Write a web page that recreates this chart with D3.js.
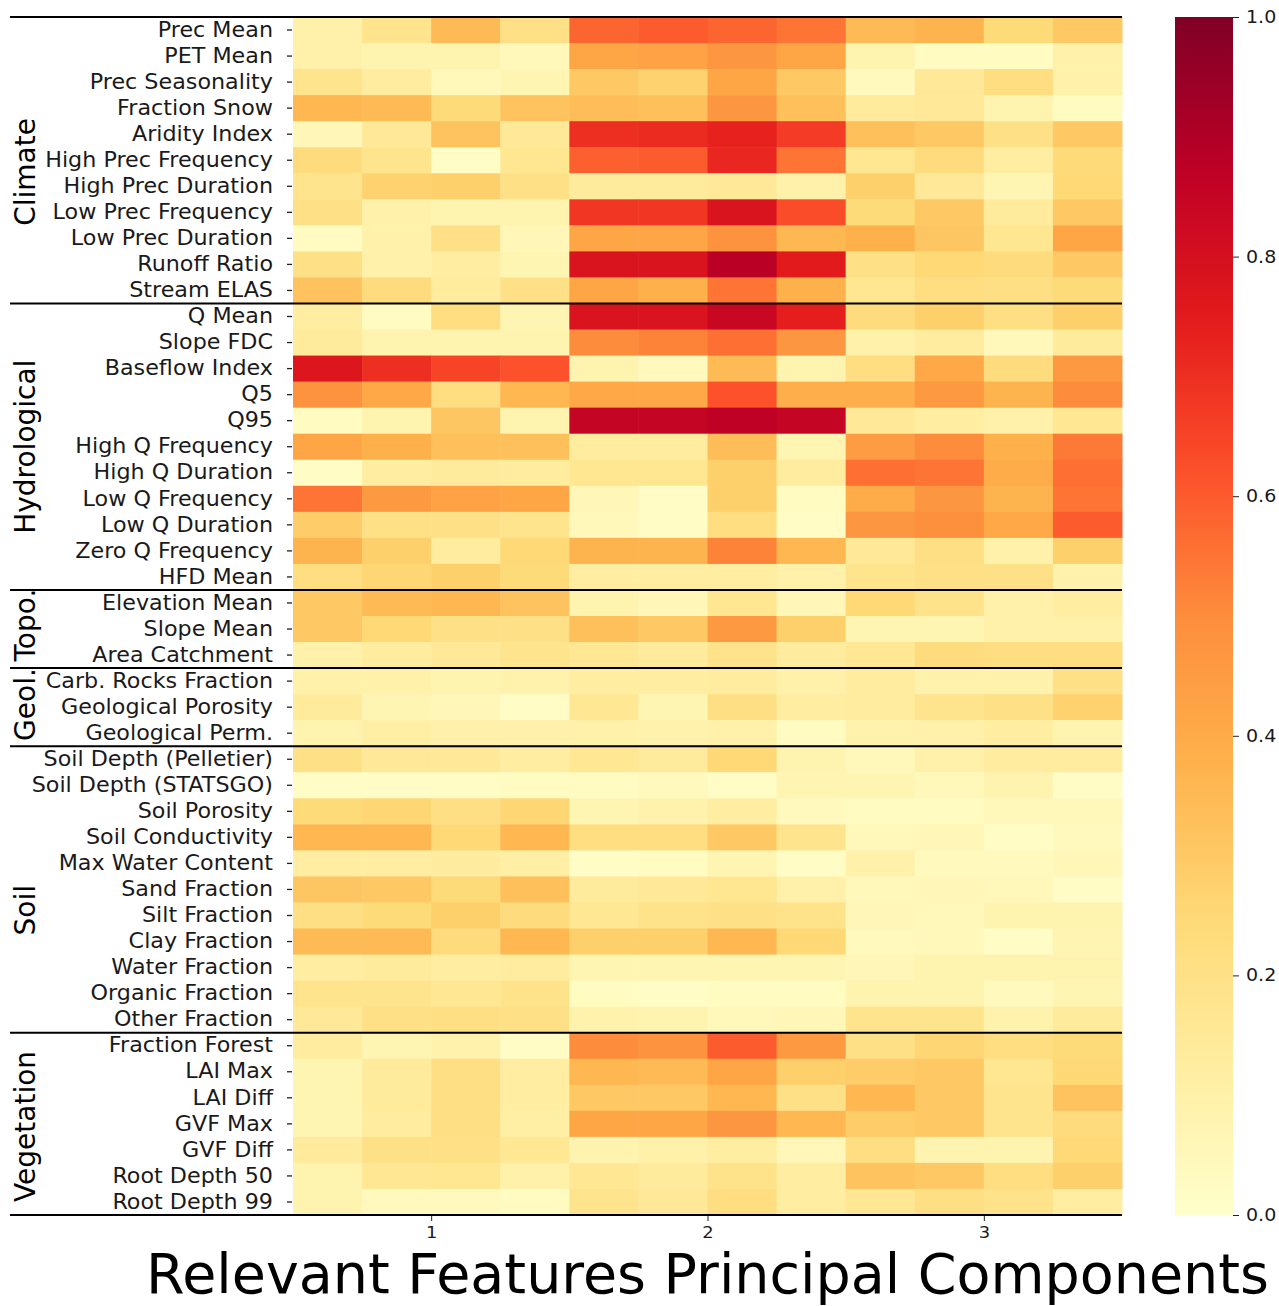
<!DOCTYPE html>
<html>
<head>
<meta charset="utf-8">
<script src="https://cdn.jsdelivr.net/npm/d3@7"></script>
<style>
  html, body { margin: 0; padding: 0; background: #fff; }
  svg { display: block; font-family: "DejaVu Sans", sans-serif; }
</style>
</head>
<body>
<svg id="chart" width="1279" height="1306"></svg>
<script>
// Feature groups, in row order
const groupNames = ["Climate", "Hydrological", "Topo.", "Geol.", "Soil", "Vegetation"];
const groupSizes = [11, 11, 3, 3, 11, 7];
// vertical anchor of each rotated group label, in row units from the top
const groupLabelRows = [5.95, 16.5, 23.35, 26.4, 34.3, 42.6];

const featureNames = [
  "Prec Mean", "PET Mean", "Prec Seasonality", "Fraction Snow", "Aridity Index",
  "High Prec Frequency", "High Prec Duration", "Low Prec Frequency", "Low Prec Duration",
  "Runoff Ratio", "Stream ELAS",
  "Q Mean", "Slope FDC", "Baseflow Index", "Q5", "Q95", "High Q Frequency",
  "High Q Duration", "Low Q Frequency", "Low Q Duration", "Zero Q Frequency", "HFD Mean",
  "Elevation Mean", "Slope Mean", "Area Catchment",
  "Carb. Rocks Fraction", "Geological Porosity", "Geological Perm.",
  "Soil Depth (Pelletier)", "Soil Depth (STATSGO)", "Soil Porosity", "Soil Conductivity",
  "Max Water Content", "Sand Fraction", "Silt Fraction", "Clay Fraction",
  "Water Fraction", "Organic Fraction", "Other Fraction",
  "Fraction Forest", "LAI Max", "LAI Diff", "GVF Max", "GVF Diff",
  "Root Depth 50", "Root Depth 99"
];

// Principal components (4 sub-columns each)
const componentLabels = ["1", "2", "3"];
const columnsPerComponent = 4;

// Relevance values, one row per feature, 12 columns
const climateValues = [
  [0.10, 0.18, 0.35, 0.20, 0.58, 0.60, 0.58, 0.55, 0.35, 0.37, 0.24, 0.30],
  [0.10, 0.08, 0.08, 0.05, 0.42, 0.43, 0.47, 0.42, 0.08, 0.03, 0.03, 0.10],
  [0.18, 0.13, 0.05, 0.07, 0.30, 0.27, 0.42, 0.30, 0.04, 0.15, 0.22, 0.10],
  [0.36, 0.35, 0.24, 0.32, 0.34, 0.33, 0.47, 0.33, 0.14, 0.15, 0.08, 0.03],
  [0.06, 0.15, 0.32, 0.15, 0.70, 0.71, 0.73, 0.67, 0.33, 0.30, 0.20, 0.30],
  [0.23, 0.18, 0.02, 0.17, 0.59, 0.60, 0.72, 0.55, 0.17, 0.23, 0.12, 0.24],
  [0.18, 0.27, 0.28, 0.20, 0.14, 0.14, 0.15, 0.10, 0.28, 0.15, 0.07, 0.25],
  [0.20, 0.10, 0.08, 0.08, 0.68, 0.68, 0.78, 0.63, 0.24, 0.30, 0.14, 0.30],
  [0.03, 0.10, 0.20, 0.06, 0.42, 0.42, 0.48, 0.36, 0.38, 0.31, 0.17, 0.42],
  [0.20, 0.10, 0.12, 0.07, 0.78, 0.78, 0.88, 0.75, 0.20, 0.25, 0.23, 0.30],
  [0.32, 0.23, 0.13, 0.20, 0.42, 0.38, 0.55, 0.38, 0.17, 0.22, 0.21, 0.24]
];
const hydroValues = [
  [0.12, 0.03, 0.22, 0.07, 0.78, 0.78, 0.84, 0.74, 0.23, 0.28, 0.21, 0.28],
  [0.14, 0.08, 0.08, 0.08, 0.50, 0.52, 0.56, 0.47, 0.10, 0.13, 0.05, 0.14],
  [0.77, 0.70, 0.65, 0.62, 0.08, 0.04, 0.35, 0.08, 0.22, 0.41, 0.23, 0.46],
  [0.48, 0.41, 0.22, 0.36, 0.41, 0.41, 0.62, 0.39, 0.39, 0.46, 0.37, 0.50],
  [0.03, 0.08, 0.31, 0.08, 0.85, 0.85, 0.87, 0.85, 0.15, 0.12, 0.10, 0.16],
  [0.42, 0.38, 0.33, 0.33, 0.13, 0.13, 0.34, 0.07, 0.45, 0.50, 0.38, 0.54],
  [0.02, 0.12, 0.14, 0.13, 0.17, 0.17, 0.28, 0.13, 0.56, 0.55, 0.40, 0.56],
  [0.55, 0.46, 0.43, 0.42, 0.06, 0.02, 0.28, 0.03, 0.40, 0.47, 0.37, 0.55],
  [0.29, 0.20, 0.20, 0.18, 0.05, 0.02, 0.22, 0.02, 0.47, 0.49, 0.41, 0.60],
  [0.37, 0.28, 0.13, 0.25, 0.37, 0.37, 0.52, 0.36, 0.15, 0.21, 0.10, 0.28],
  [0.22, 0.26, 0.28, 0.24, 0.12, 0.12, 0.12, 0.10, 0.18, 0.20, 0.20, 0.09]
];
const topoValues = [
  [0.30, 0.35, 0.36, 0.32, 0.08, 0.06, 0.17, 0.06, 0.25, 0.19, 0.10, 0.12],
  [0.30, 0.25, 0.20, 0.20, 0.33, 0.30, 0.46, 0.28, 0.07, 0.07, 0.10, 0.10],
  [0.10, 0.13, 0.15, 0.18, 0.16, 0.14, 0.19, 0.13, 0.16, 0.23, 0.22, 0.22]
];
const geolValues = [
  [0.10, 0.10, 0.08, 0.09, 0.12, 0.12, 0.13, 0.10, 0.13, 0.09, 0.09, 0.20],
  [0.14, 0.07, 0.06, 0.02, 0.16, 0.07, 0.21, 0.12, 0.13, 0.18, 0.20, 0.27],
  [0.08, 0.11, 0.10, 0.10, 0.10, 0.09, 0.10, 0.03, 0.09, 0.10, 0.12, 0.08]
];
const soilValues = [
  [0.20, 0.15, 0.15, 0.12, 0.16, 0.14, 0.25, 0.08, 0.05, 0.10, 0.13, 0.13],
  [0.02, 0.02, 0.02, 0.03, 0.03, 0.04, 0.02, 0.07, 0.07, 0.05, 0.08, 0.02],
  [0.24, 0.26, 0.21, 0.26, 0.07, 0.09, 0.12, 0.04, 0.03, 0.03, 0.05, 0.05],
  [0.36, 0.36, 0.25, 0.36, 0.22, 0.22, 0.30, 0.18, 0.05, 0.06, 0.02, 0.04],
  [0.12, 0.12, 0.13, 0.11, 0.02, 0.03, 0.07, 0.02, 0.10, 0.04, 0.04, 0.06],
  [0.31, 0.30, 0.24, 0.33, 0.14, 0.15, 0.17, 0.10, 0.05, 0.06, 0.05, 0.02],
  [0.21, 0.24, 0.28, 0.23, 0.16, 0.19, 0.20, 0.19, 0.06, 0.05, 0.08, 0.08],
  [0.35, 0.35, 0.23, 0.36, 0.28, 0.28, 0.36, 0.25, 0.04, 0.05, 0.02, 0.07],
  [0.12, 0.14, 0.12, 0.13, 0.07, 0.07, 0.07, 0.07, 0.06, 0.08, 0.08, 0.08],
  [0.18, 0.18, 0.16, 0.19, 0.03, 0.02, 0.03, 0.03, 0.08, 0.08, 0.04, 0.07],
  [0.15, 0.20, 0.21, 0.20, 0.09, 0.08, 0.05, 0.06, 0.18, 0.18, 0.09, 0.14]
];
const vegValues = [
  [0.13, 0.07, 0.09, 0.02, 0.50, 0.48, 0.60, 0.46, 0.20, 0.26, 0.22, 0.24],
  [0.07, 0.14, 0.21, 0.12, 0.36, 0.35, 0.42, 0.28, 0.29, 0.30, 0.17, 0.25],
  [0.07, 0.14, 0.21, 0.12, 0.30, 0.30, 0.36, 0.20, 0.36, 0.30, 0.18, 0.32],
  [0.07, 0.13, 0.21, 0.11, 0.42, 0.42, 0.47, 0.36, 0.29, 0.30, 0.18, 0.23],
  [0.14, 0.20, 0.20, 0.16, 0.08, 0.10, 0.12, 0.06, 0.22, 0.08, 0.08, 0.25],
  [0.08, 0.16, 0.17, 0.10, 0.16, 0.14, 0.19, 0.12, 0.32, 0.30, 0.22, 0.28],
  [0.08, 0.04, 0.04, 0.03, 0.18, 0.15, 0.22, 0.12, 0.16, 0.21, 0.19, 0.12]
];

const colorbarTicks = [0, 0.2, 0.4, 0.6, 0.8, 1.0];
const titleText = "Relevant Features Principal Components";

// YlOrRd ramp (9 anchor colours spread over [0, 1])
const ylOrRd = ["#ffffcc", "#ffeda0", "#fed976", "#feb24c", "#fd8d3c",
                "#fc4e2a", "#e31a1c", "#bd0026", "#800026"];

const allValues = [].concat(climateValues, hydroValues, topoValues, geolValues, soilValues, vegValues);
const nCols = componentLabels.length * columnsPerComponent;

const cells = [];
allValues.forEach((row, r) => row.forEach((v, c) => cells.push({ r, c, v })));

// Layout
const plotLeft = 293, plotRight = 1122, plotTop = 17, plotBottom = 1215;
const cbLeft = 1175, cbRight = 1233;

const svg = d3.select("#chart");

const color = d3.scaleLinear()
  .domain(d3.range(ylOrRd.length).map(i => i / (ylOrRd.length - 1)))
  .range(ylOrRd)
  .interpolate(d3.interpolateRgb)
  .clamp(true);

const x = d3.scaleBand().domain(d3.range(nCols)).range([plotLeft, plotRight]).padding(0);
const y = d3.scaleBand().domain(featureNames).range([plotTop, plotBottom]).padding(0);
const yRow = d3.scaleLinear().domain([0, featureNames.length]).range([plotTop, plotBottom]);
const xComp = d3.scaleLinear().domain([0.5, componentLabels.length + 0.5]).range([plotLeft, plotRight]);

// Heatmap cells
svg.append("g")
  .selectAll("rect")
  .data(cells)
  .join("rect")
  .attr("x", d => x(d.c))
  .attr("y", d => y(featureNames[d.r]))
  .attr("width", x.bandwidth() + 0.5)
  .attr("height", y.bandwidth() + 0.5)
  .attr("fill", d => color(d.v));

// Feature axis (labels are drawn slightly widened)
const yAxis = svg.append("g")
  .attr("transform", `translate(${plotLeft},0)`)
  .call(d3.axisLeft(y).tickSize(5).tickPadding(15));
yAxis.select(".domain").remove();
yAxis.selectAll(".tick line").attr("stroke", "#222").attr("stroke-width", 1.3).attr("transform", "translate(-1,0)");
yAxis.selectAll(".tick text")
  .attr("x", 0)
  .attr("transform", "translate(-20,0) scale(1.06,1)")
  .attr("font-family", "DejaVu Sans, sans-serif")
  .attr("font-size", 21)
  .attr("fill", "#1a1a1a");

// Component axis
const xAxis = svg.append("g")
  .attr("transform", `translate(0,${plotBottom})`)
  .call(d3.axisBottom(xComp).tickValues([1, 2, 3]).tickFormat((d, i) => componentLabels[i]).tickSize(6).tickPadding(6));
xAxis.select(".domain").remove();
xAxis.selectAll(".tick line").attr("stroke", "#222");
xAxis.selectAll(".tick text")
  .attr("transform", "scale(1.12,1)")
  .attr("font-family", "DejaVu Sans, sans-serif")
  .attr("font-size", 16)
  .attr("fill", "#1a1a1a");

// Group separators
const boundaries = [0];
groupSizes.forEach(s => boundaries.push(boundaries[boundaries.length - 1] + s));
svg.append("g")
  .selectAll("line")
  .data(boundaries)
  .join("line")
  .attr("x1", 10)
  .attr("x2", plotRight)
  .attr("y1", d => yRow(d))
  .attr("y2", d => yRow(d))
  .attr("stroke", "#000")
  .attr("stroke-width", 2);

// Rotated group labels
svg.append("g")
  .selectAll("text")
  .data(groupNames)
  .join("text")
  .attr("transform", (d, i) => `translate(35,${yRow(groupLabelRows[i])}) rotate(-90)`)
  .attr("text-anchor", "middle")
  .attr("font-family", "DejaVu Sans, sans-serif")
  .attr("font-size", 28)
  .attr("fill", "#000")
  .text(d => d);

// Colour bar
const cbScale = d3.scaleLinear().domain([0, 1]).range([plotBottom, plotTop]);
const defs = svg.append("defs");
const grad = defs.append("linearGradient")
  .attr("id", "cbGrad")
  .attr("x1", 0).attr("y1", 1).attr("x2", 0).attr("y2", 0);
grad.selectAll("stop")
  .data(d3.range(0, 1.0001, 0.02))
  .join("stop")
  .attr("offset", d => d)
  .attr("stop-color", d => color(d));
svg.append("rect")
  .attr("x", cbLeft)
  .attr("y", plotTop)
  .attr("width", cbRight - cbLeft)
  .attr("height", plotBottom - plotTop)
  .attr("fill", "url(#cbGrad)");
const cbAxis = svg.append("g")
  .attr("transform", `translate(${cbRight},0)`)
  .call(d3.axisRight(cbScale).tickValues(colorbarTicks).tickFormat(d3.format(".1f")).tickSize(6).tickPadding(7));
cbAxis.select(".domain").remove();
cbAxis.selectAll(".tick line").attr("stroke", "#222");
cbAxis.selectAll(".tick text")
  .attr("x", 0)
  .attr("transform", "translate(13,0) scale(1.12,1)")
  .attr("font-family", "DejaVu Sans, sans-serif")
  .attr("font-size", 17)
  .attr("fill", "#1a1a1a");

// Axis title
svg.append("text")
  .attr("x", (plotLeft + plotRight) / 2)
  .attr("y", 1293)
  .attr("text-anchor", "middle")
  .attr("font-family", "DejaVu Sans, sans-serif")
  .attr("font-size", 55.5)
  .attr("fill", "#000")
  .text(titleText);
</script>
</body>
</html>
